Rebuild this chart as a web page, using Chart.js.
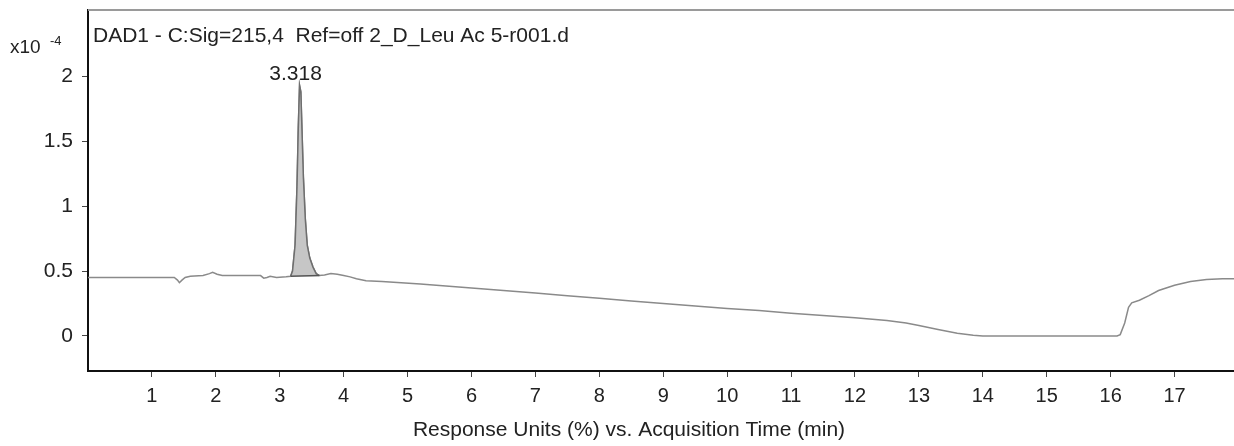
<!DOCTYPE html>
<html>
<head>
<meta charset="utf-8">
<script src="https://cdn.jsdelivr.net/npm/chart.js@4/dist/chart.umd.min.js"></script>
<style>
  html, body { margin: 0; padding: 0; background: #ffffff; }
  #wrap { width: 1234px; height: 446px; position: relative; }
</style>
</head>
<body>
<div id="wrap"><canvas id="c" width="1234" height="446"></canvas></div>
<script>
// Acquisition time (min)
const times = [0, 1.35, 1.40, 1.43, 1.47, 1.52, 1.6, 1.8, 1.9, 1.95, 2.02, 2.1, 2.5, 2.7, 2.75, 2.8, 2.85, 2.95, 3.1,
  3.17, 3.2, 3.24, 3.27, 3.29, 3.31, 3.33, 3.35, 3.37, 3.40, 3.43, 3.47, 3.52, 3.57, 3.62,
  3.7, 3.8, 3.9, 4.0, 4.1, 4.2, 4.35, 4.6, 4.9, 5.2, 5.6, 6.0, 6.5, 7.0, 7.5, 8.0, 8.5, 9.0, 9.5,
  10.0, 10.5, 11.0, 11.5, 12.0, 12.5, 12.8, 13.0, 13.3, 13.6, 13.85, 14.0, 16.1, 16.15, 16.22, 16.28,
  16.33, 16.45, 16.6, 16.75, 17.0, 17.25, 17.5, 17.75, 17.93];
// Response (x10^-4)
const signal = [0.45, 0.45, 0.43, 0.41, 0.43, 0.45, 0.46, 0.465, 0.48, 0.49, 0.475, 0.465, 0.465, 0.465, 0.445, 0.45, 0.46, 0.45, 0.455,
  0.46, 0.5, 0.7, 1.15, 1.6, 1.93, 1.88, 1.55, 1.22, 0.9, 0.7, 0.6, 0.53, 0.48, 0.465,
  0.47, 0.48, 0.475, 0.465, 0.455, 0.44, 0.425, 0.42, 0.41, 0.40, 0.385, 0.37, 0.35, 0.33, 0.31, 0.29, 0.27, 0.25, 0.23,
  0.212, 0.195, 0.175, 0.157, 0.14, 0.118, 0.1, 0.08, 0.05, 0.02, 0.005, 0, 0, 0.01, 0.1, 0.22,
  0.255, 0.275, 0.31, 0.35, 0.39, 0.42, 0.435, 0.44, 0.44];
// Integrated peak
const peakWindow = [3.17, 3.62];
const peakBaseline = [0.46, 0.465];
const peakLabel = '3.318';
const peakApexTime = 3.31;

const xTicks = [1,2,3,4,5,6,7,8,9,10,11,12,13,14,15,16,17];
const yTicks = [0, 0.5, 1, 1.5, 2];
const yTickLabels = ['0', '0.5', '1', '1.5', '2'];

const titleText = 'DAD1 - C:Sig=215,4  Ref=off 2_D_Leu Ac 5-r001.d';
const xTitleText = 'Response Units (%) vs. Acquisition Time (min)';
const yScaleText = 'x10';
const yScaleExp = '-4';

const FONT = '"Liberation Sans", Arial, sans-serif';
const TEXT = '#222222';

const trace = times.map((t, i) => ({ x: t, y: signal[i] }));
const peakPts = trace.filter(p => p.x >= peakWindow[0] && p.x <= peakWindow[1]);
const basePts = [{ x: peakWindow[0], y: peakBaseline[0] }, { x: peakWindow[1], y: peakBaseline[1] }];

const extras = {
  id: 'extras',
  afterDraw(chart) {
    const ctx = chart.ctx;
    const a = chart.chartArea;
    const xs = chart.scales.x, ys = chart.scales.y;
    ctx.save();
    // top frame line
    ctx.strokeStyle = '#9a9a9a';
    ctx.lineWidth = 2;
    ctx.beginPath(); ctx.moveTo(a.left, a.top); ctx.lineTo(a.right, a.top); ctx.stroke();
    // title
    ctx.fillStyle = TEXT;
    ctx.font = '21px ' + FONT;
    ctx.textAlign = 'left'; ctx.textBaseline = 'middle';
    ctx.fillText(titleText, 93, 36);
    // scale factor
    ctx.font = '19px ' + FONT;
    ctx.fillText(yScaleText, 10, 48);
    ctx.font = '13px ' + FONT;
    ctx.fillText(yScaleExp, 50, 41);
    // peak label
    const apexIdx = times.indexOf(peakApexTime);
    const px = xs.getPixelForValue(peakApexTime);
    const py = ys.getPixelForValue(signal[apexIdx]);
    ctx.font = '21px ' + FONT;
    ctx.textAlign = 'center'; ctx.textBaseline = 'bottom';
    ctx.fillText(peakLabel, px - 4, py - 1);
    // x axis title
    ctx.textAlign = 'center'; ctx.textBaseline = 'middle';
    ctx.fillText(xTitleText, 629, 430);
    ctx.restore();
  }
};

new Chart(document.getElementById('c'), {
  type: 'line',
  data: {
    datasets: [
      { data: peakPts, borderColor: '#6e6e6e', borderWidth: 1.5, backgroundColor: '#c6c6c6',
        fill: { value: peakBaseline[0] }, pointRadius: 0, tension: 0, order: 2 },
      { data: basePts, borderColor: '#555555', borderWidth: 1.5, pointRadius: 0, fill: false, order: 1 },
      { data: trace, borderColor: '#8a8a8a', borderWidth: 1.5, pointRadius: 0, fill: false, tension: 0, order: 3 }
    ]
  },
  options: {
    responsive: false,
    animation: false,
    events: [],
    layout: { padding: { top: 10, left: 0, right: 0, bottom: 0 } },
    plugins: { legend: { display: false }, tooltip: { enabled: false }, title: { display: false } },
    scales: {
      x: {
        type: 'linear', min: 0, max: 17.93,
        afterFit(s) { s.height = 75; s.paddingLeft = 0; s.paddingRight = 0; },
        afterBuildTicks(s) { s.ticks = xTicks.map(v => ({ value: v })); },
        border: { display: true, color: '#111111', width: 2 },
        grid: { drawOnChartArea: false, drawTicks: true, tickLength: 6, color: '#444444' },
        ticks: { color: TEXT, font: { family: FONT, size: 20 }, padding: 7, maxRotation: 0, autoSkip: false,
                 callback: (v) => String(v) }
      },
      y: {
        type: 'linear', min: -0.27, max: 2.51,
        afterFit(s) { s.width = 88; s.paddingTop = 0; s.paddingBottom = 0; },
        afterBuildTicks(s) { s.ticks = yTicks.map(v => ({ value: v })); },
        border: { display: true, color: '#111111', width: 2 },
        grid: { drawOnChartArea: false, drawTicks: true, tickLength: 6, color: '#444444' },
        ticks: { color: TEXT, font: { family: FONT, size: 21 }, padding: 9, autoSkip: false,
                 callback: (v, i) => yTickLabels[i] }
      }
    }
  },
  plugins: [extras]
});
</script>
</body>
</html>
